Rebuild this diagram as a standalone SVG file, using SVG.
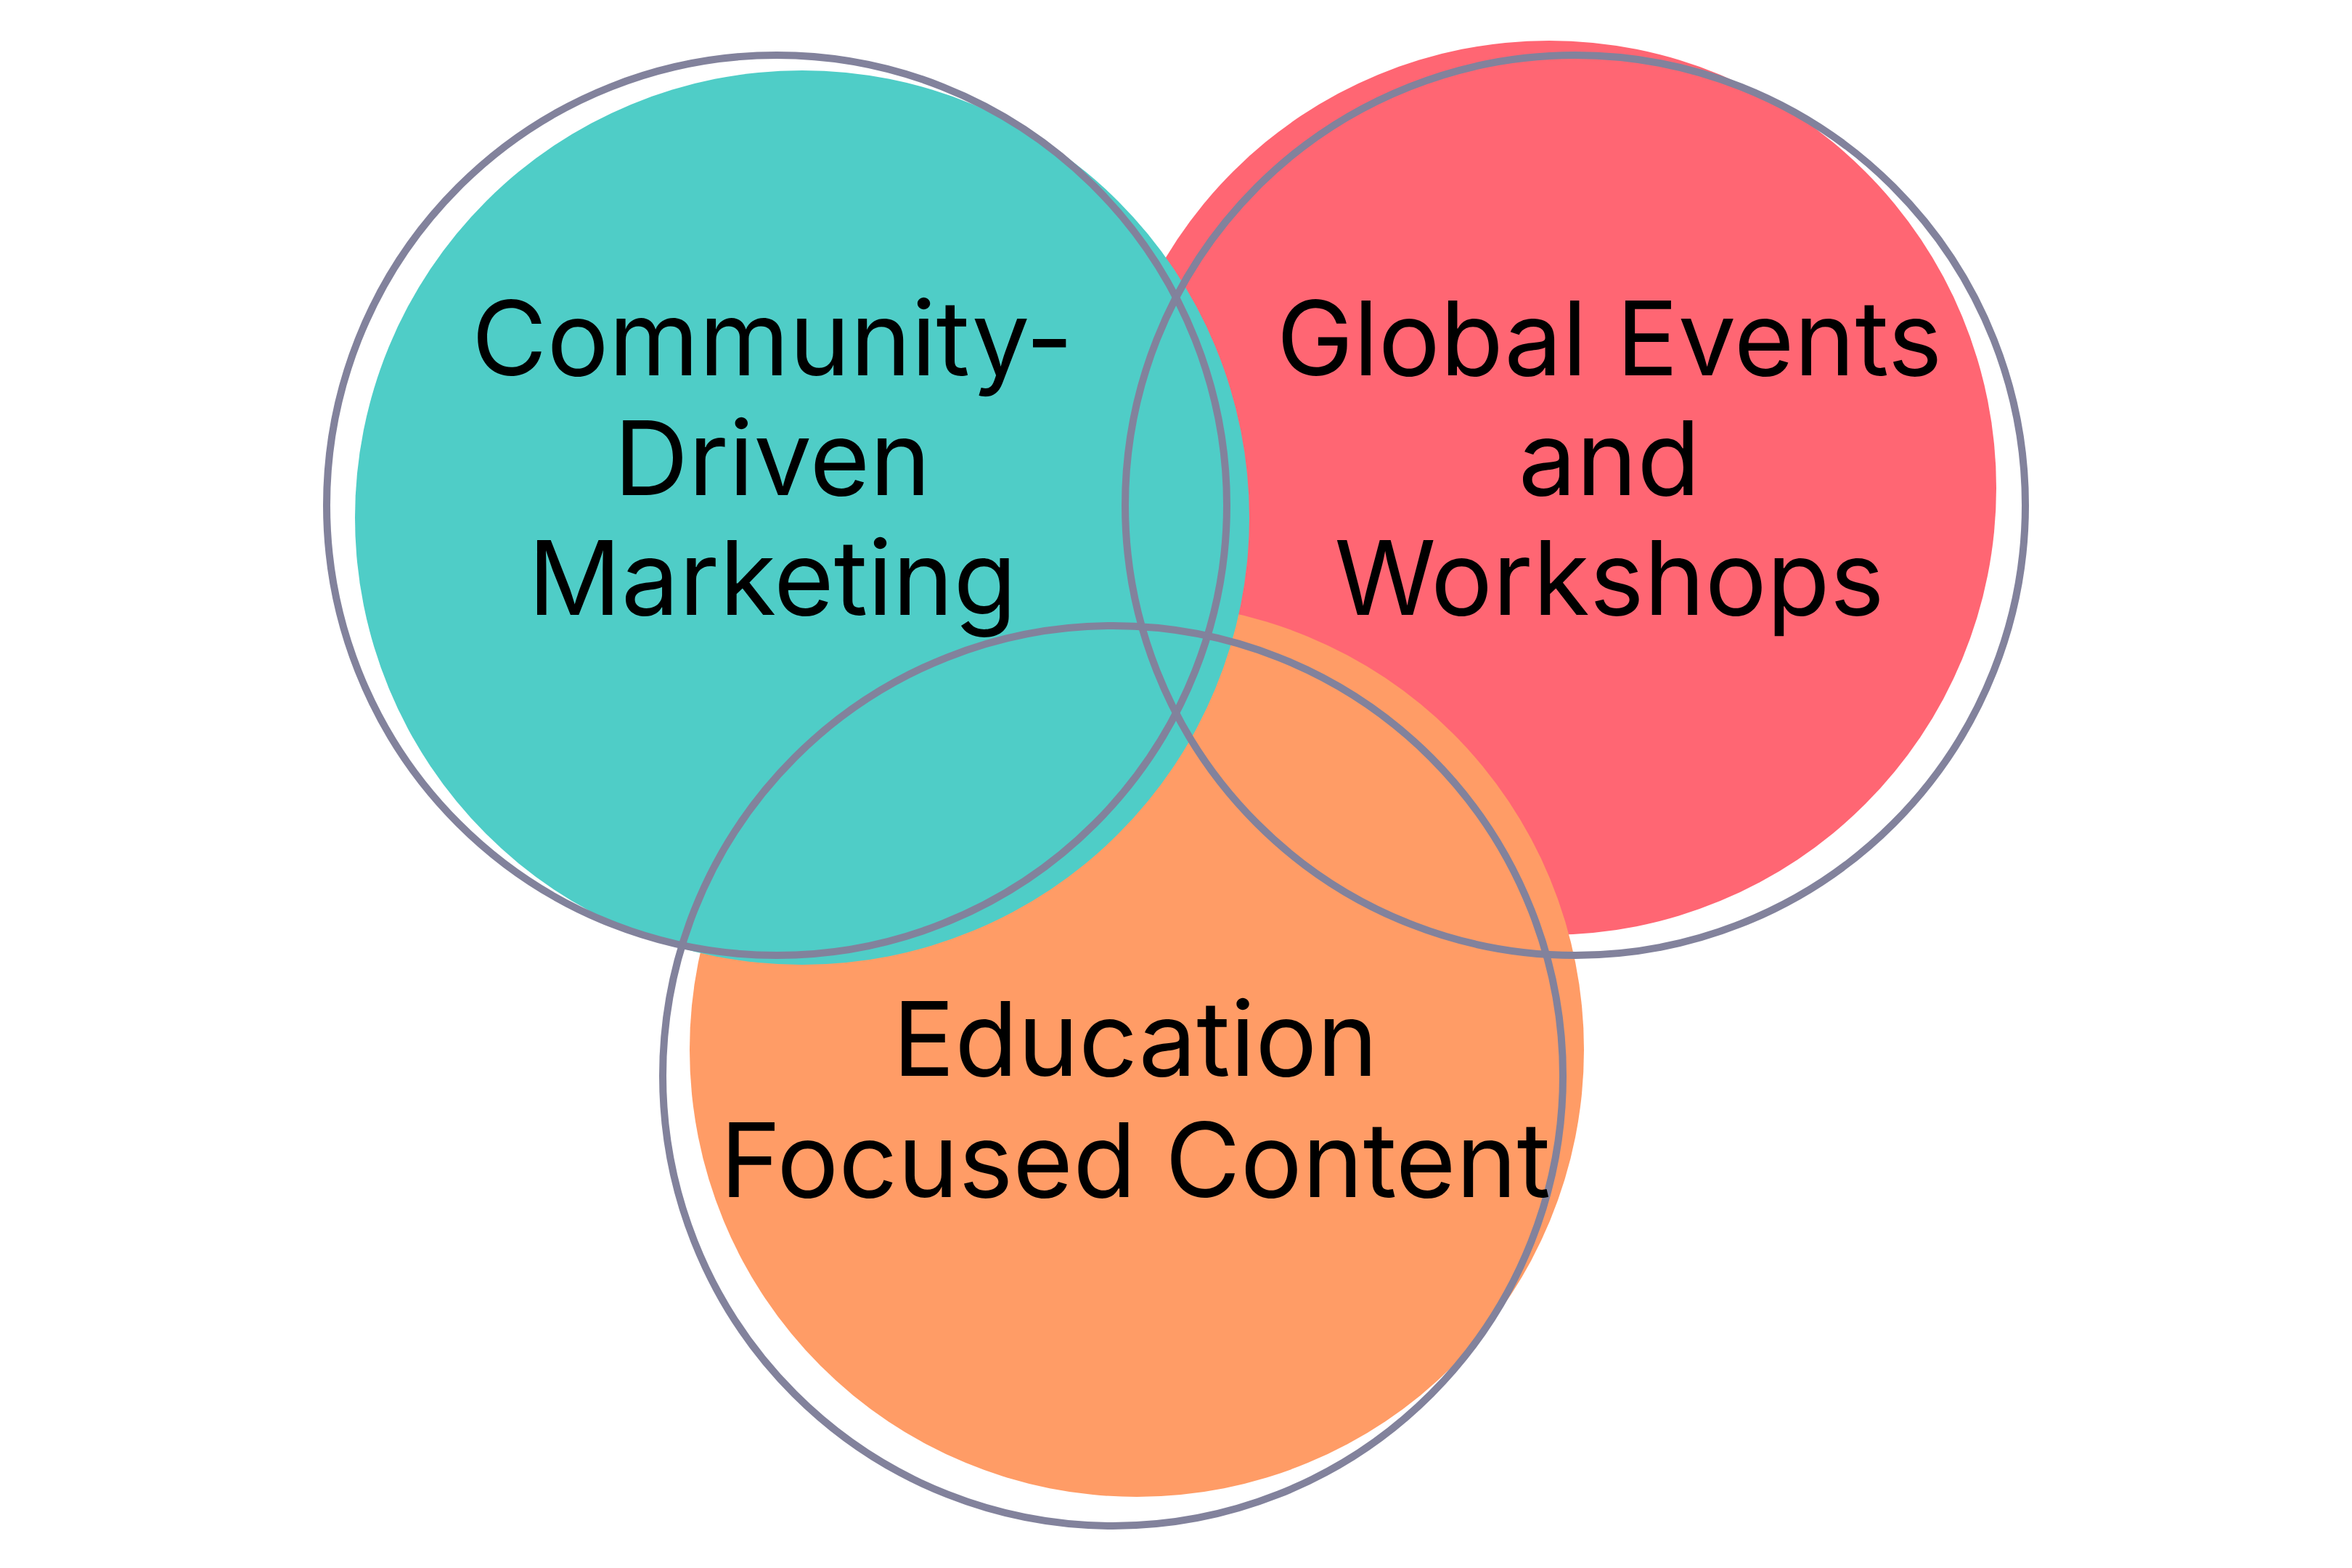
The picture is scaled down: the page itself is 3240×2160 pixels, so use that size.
<svg xmlns="http://www.w3.org/2000/svg" width="3240" height="2160" viewBox="0 0 3240 2160">
<style>
.ring{fill:none;stroke:#82829C;stroke-width:10}
.t{font-family:Inter,"Noto Sans",sans-serif;font-size:142px;fill:#000;text-anchor:middle}
</style>
<rect width="3240" height="2160" fill="#fff"/>
<g id="fills">
<circle cx="2134" cy="672" r="616" fill="#FF6673"/>
<circle cx="1566" cy="1446" r="616" fill="#FF9C66"/>
<circle cx="1105" cy="713" r="616" fill="#4FCDC7"/>
</g>
<g id="rings">
<circle class="ring" cx="1070" cy="696" r="620"/>
<circle class="ring" cx="2170" cy="696" r="620"/>
<circle class="ring" cx="1533" cy="1482" r="620"/>
</g>
<g id="node-community"><text class="t" x="1064" y="517">Community-</text><text class="t" x="1064" y="682">Driven</text><text class="t" x="1064" y="847">Marketing</text></g>
<g id="node-global"><text class="t" x="2217" y="517">Global Events</text><text class="t" x="2217" y="682">and</text><text class="t" x="2217" y="847">Workshops</text></g>
<g id="node-education"><text class="t" x="1564" y="1482">Education</text><text class="t" x="1564" y="1649">Focused Content</text></g>
</svg>
